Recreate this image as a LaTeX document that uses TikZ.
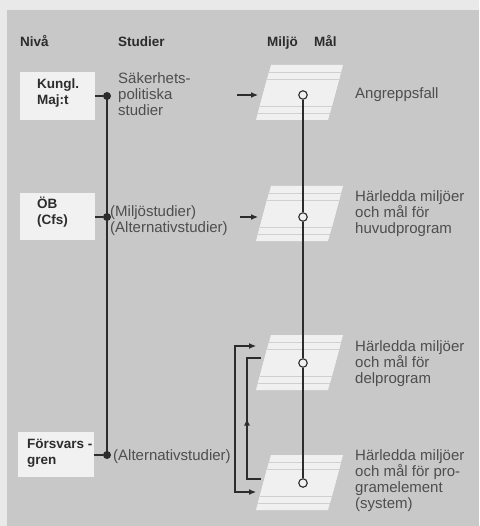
\documentclass[tikz,border=0pt]{standalone}
\usepackage{fontspec}
\setmainfont{Liberation Sans}
\usetikzlibrary{arrows.meta,decorations.markings}

\definecolor{paper}{HTML}{E9E9E9}
\definecolor{panel}{HTML}{C8C8C8}
\definecolor{cardfill}{HTML}{F1F1F1}
\definecolor{sheetfill}{HTML}{F0F0F0}
\definecolor{sheetline}{HTML}{D0D0D0}
\definecolor{ink}{HTML}{2C2C2C}
\definecolor{print}{HTML}{4E4E4E}

\begin{document}
\begin{tikzpicture}[x=1pt,y=-1pt,
  head/.style={font=\fontsize{13.5}{16}\selectfont\bfseries, text=ink, inner sep=0pt, anchor=base west},
  body/.style={font=\fontsize{15}{16}\selectfont, text=print, inner sep=0pt, anchor=west, align=left},
  card/.style={fill=cardfill, draw=none, inner sep=0pt},
  boxtext/.style={font=\fontsize{13.5}{16}\selectfont\bfseries, text=ink, inner sep=0pt, anchor=west, align=left},
  junction/.style={circle, fill=ink, inner sep=0pt, minimum size=8pt},
  ring/.style={circle, draw=ink, line width=1.1pt, fill=sheetfill, inner sep=0pt, minimum size=8.5pt},
  wire/.style={draw=ink, line width=1.1pt},
  tip/.style={-{Latex[length=7pt,width=6pt]}},
  pics/sheetstack/.style={code={
    % three stacked sheets, each shifted down and slightly left
    \foreach \k in {0,1,2}{
      \fill[sheetfill] (-2*\k, 7*\k) -- ++(72,0) -- ++(-11,41) -- ++(-72,0) -- cycle;
    }
    \foreach \k in {1,2}{
      \draw[sheetline, line width=0.8pt] (-2*\k, 7*\k) -- ++(72,0);
    }
    \foreach \k in {0,1}{
      \draw[sheetline, line width=0.8pt] (-2*\k-11, 7*\k+41) -- ++(72,0);
    }
  }},
]
\useasboundingbox (0,0) rectangle (479,526);
\fill[paper] (0,0) rectangle (479,526);
\fill[panel] (7,10) rectangle (479,526);

% column headings, on one baseline
\node[head] (hniva) at (20,47) {Nivå};
\node[head] (hstud) at (118,47) {Studier};
\node[head] (hmiljo) at (267,47) {Miljö};
\node[head] (hmal) at (314,47) {Mål};

% decision levels
\node[card, minimum width=75pt, minimum height=48pt] (b1) at (57.5,96) {};
\node[boxtext] (b1t) at (37,93) {Kungl.\\Maj:t};
\node[card, minimum width=75pt, minimum height=47pt] (b2) at (57.5,216.5) {};
\node[boxtext] (b2t) at (37,212) {ÖB\\(Cfs)};
\node[card, minimum width=76pt, minimum height=45pt] (b3) at (56,454.5) {};
\node[boxtext] (b3t) at (27,453) {Försvars -\\gren};

% study spine
\node[junction] (d1) at (107,96) {};
\node[junction] (d2) at (107,217) {};
\node[junction] (d3) at (107,455) {};
\draw[wire] (d1.center) -- (d3.center);
\draw[wire] (b1.east |- d1) -- (d1);
\draw[wire] (b2.east |- d2) -- (d2);
\draw[wire] (b3.east |- d3) -- (d3);

\node[body] (st1) at (118,94) {Säkerhets-\\politiska\\studier};
\node[body] (st2) at (110,221) {(Miljöstudier)\\(Alternativstudier)};
\node[body] (st3) at (113,457) {(Alternativstudier)};

% environment / goal sheet stacks
\pic at (271,65) {sheetstack};
\pic at (271,186) {sheetstack};
\pic at (271,335) {sheetstack};
\pic at (271,455) {sheetstack};

% goal spine
\node[ring] (c1) at (303,95) {};
\node[ring] (c2) at (303,217) {};
\node[ring] (c3) at (303,363) {};
\node[ring] (c4) at (303,483) {};
\draw[wire] (c1) -- (c2) -- (c3) -- (c4);

% inputs to the stacks
\coordinate (a1s) at (237,95);
\coordinate (a1e) at (258,95);
\coordinate (a2s) at (240,217);
\coordinate (a2e) at (258,217);
\draw[wire, tip] (a1s) -- (a1e);
\draw[wire, tip] (a2s) -- (a2e);

% outer bracket feeding both lower stacks
\coordinate (otop) at (256,346);
\coordinate (obot) at (256,492);
\coordinate (ox) at (235,0);
\draw[wire, {Latex[length=7pt,width=6pt]}-{Latex[length=7pt,width=6pt]}]
  (otop) -- (otop -| ox) -- (obot -| ox) -- (obot);

% inner feedback loop upward
\coordinate (itop) at (261,358);
\coordinate (ibot) at (261,479);
\coordinate (ix) at (247,0);
\draw[wire, postaction={decorate},
  decoration={markings, mark=at position 0.5 with {\arrow{Latex[length=7pt,width=6pt]}}}]
  (ibot) -- (ibot -| ix) -- (itop -| ix) -- (itop);

% results
\node[body] (g1) at (355,95) {Angreppsfall};
\node[body] (g2) at (355,214) {Härledda miljöer\\och mål för\\huvudprogram};
\node[body] (g3) at (355,364) {Härledda miljöer\\och mål för\\delprogram};
\node[body] (g4) at (355,481) {Härledda miljöer\\och mål för pro-\\gramelement\\(system)};
\end{tikzpicture}
\end{document}
